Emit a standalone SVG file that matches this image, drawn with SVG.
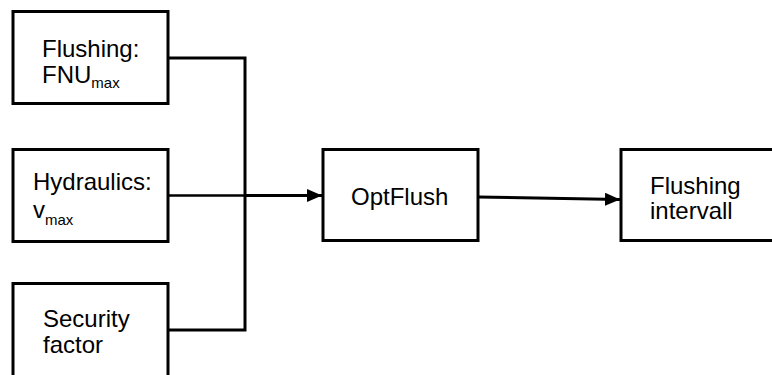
<svg xmlns="http://www.w3.org/2000/svg" width="772" height="375" viewBox="0 0 772 375">
<defs>
<style>
.box{fill:#fff;stroke:#000;stroke-width:3}
.t{font-family:"Liberation Sans",Arial,sans-serif;font-size:24px;fill:#000}
.sub{font-size:15px}
.ln{fill:none;stroke:#000;stroke-width:3}
.thin{fill:none;stroke:#000;stroke-width:2.5}
</style>
<marker id="ah" viewBox="0 0 15 13" refX="15" refY="6.5" markerWidth="15" markerHeight="13" markerUnits="userSpaceOnUse" orient="auto">
<path d="M0,0 L15,6.5 L0,13 Z" fill="#000"/>
</marker>
</defs>
<rect width="772" height="375" fill="#fff"/>
<g id="connectors">
<path class="ln" d="M168,58 H245 V330 H168"/>
<path class="thin" d="M168,195.5 H245"/>
<path class="ln" d="M245,195.5 H322" marker-end="url(#ah)"/>
<path class="ln" d="M478,197 L620,199.5" marker-end="url(#ah)"/>
</g>
<g id="flushing">
<rect class="box" x="13" y="11.5" width="155" height="92"/>
<text class="t" x="42" y="57">Flushing:</text>
<text class="t" x="42" y="83">FNU<tspan class="sub" dy="5">max</tspan></text>
</g>
<g id="hydraulics">
<rect class="box" x="13" y="149.5" width="155" height="92"/>
<text class="t" x="33" y="190">Hydraulics:</text>
<text class="t" x="33" y="218">v<tspan class="sub" dy="7">max</tspan></text>
</g>
<g id="security">
<rect class="box" x="13" y="283.5" width="155" height="100"/>
<text class="t" x="43" y="327">Security</text>
<text class="t" x="43" y="353">factor</text>
</g>
<g id="optflush">
<rect class="box" x="323" y="149.5" width="155" height="91"/>
<text class="t" x="351" y="205">OptFlush</text>
</g>
<g id="interval">
<rect class="box" x="621" y="149.5" width="160" height="91"/>
<text class="t" x="650" y="194">Flushing</text>
<text class="t" x="650" y="219">intervall</text>
</g>
</svg>
